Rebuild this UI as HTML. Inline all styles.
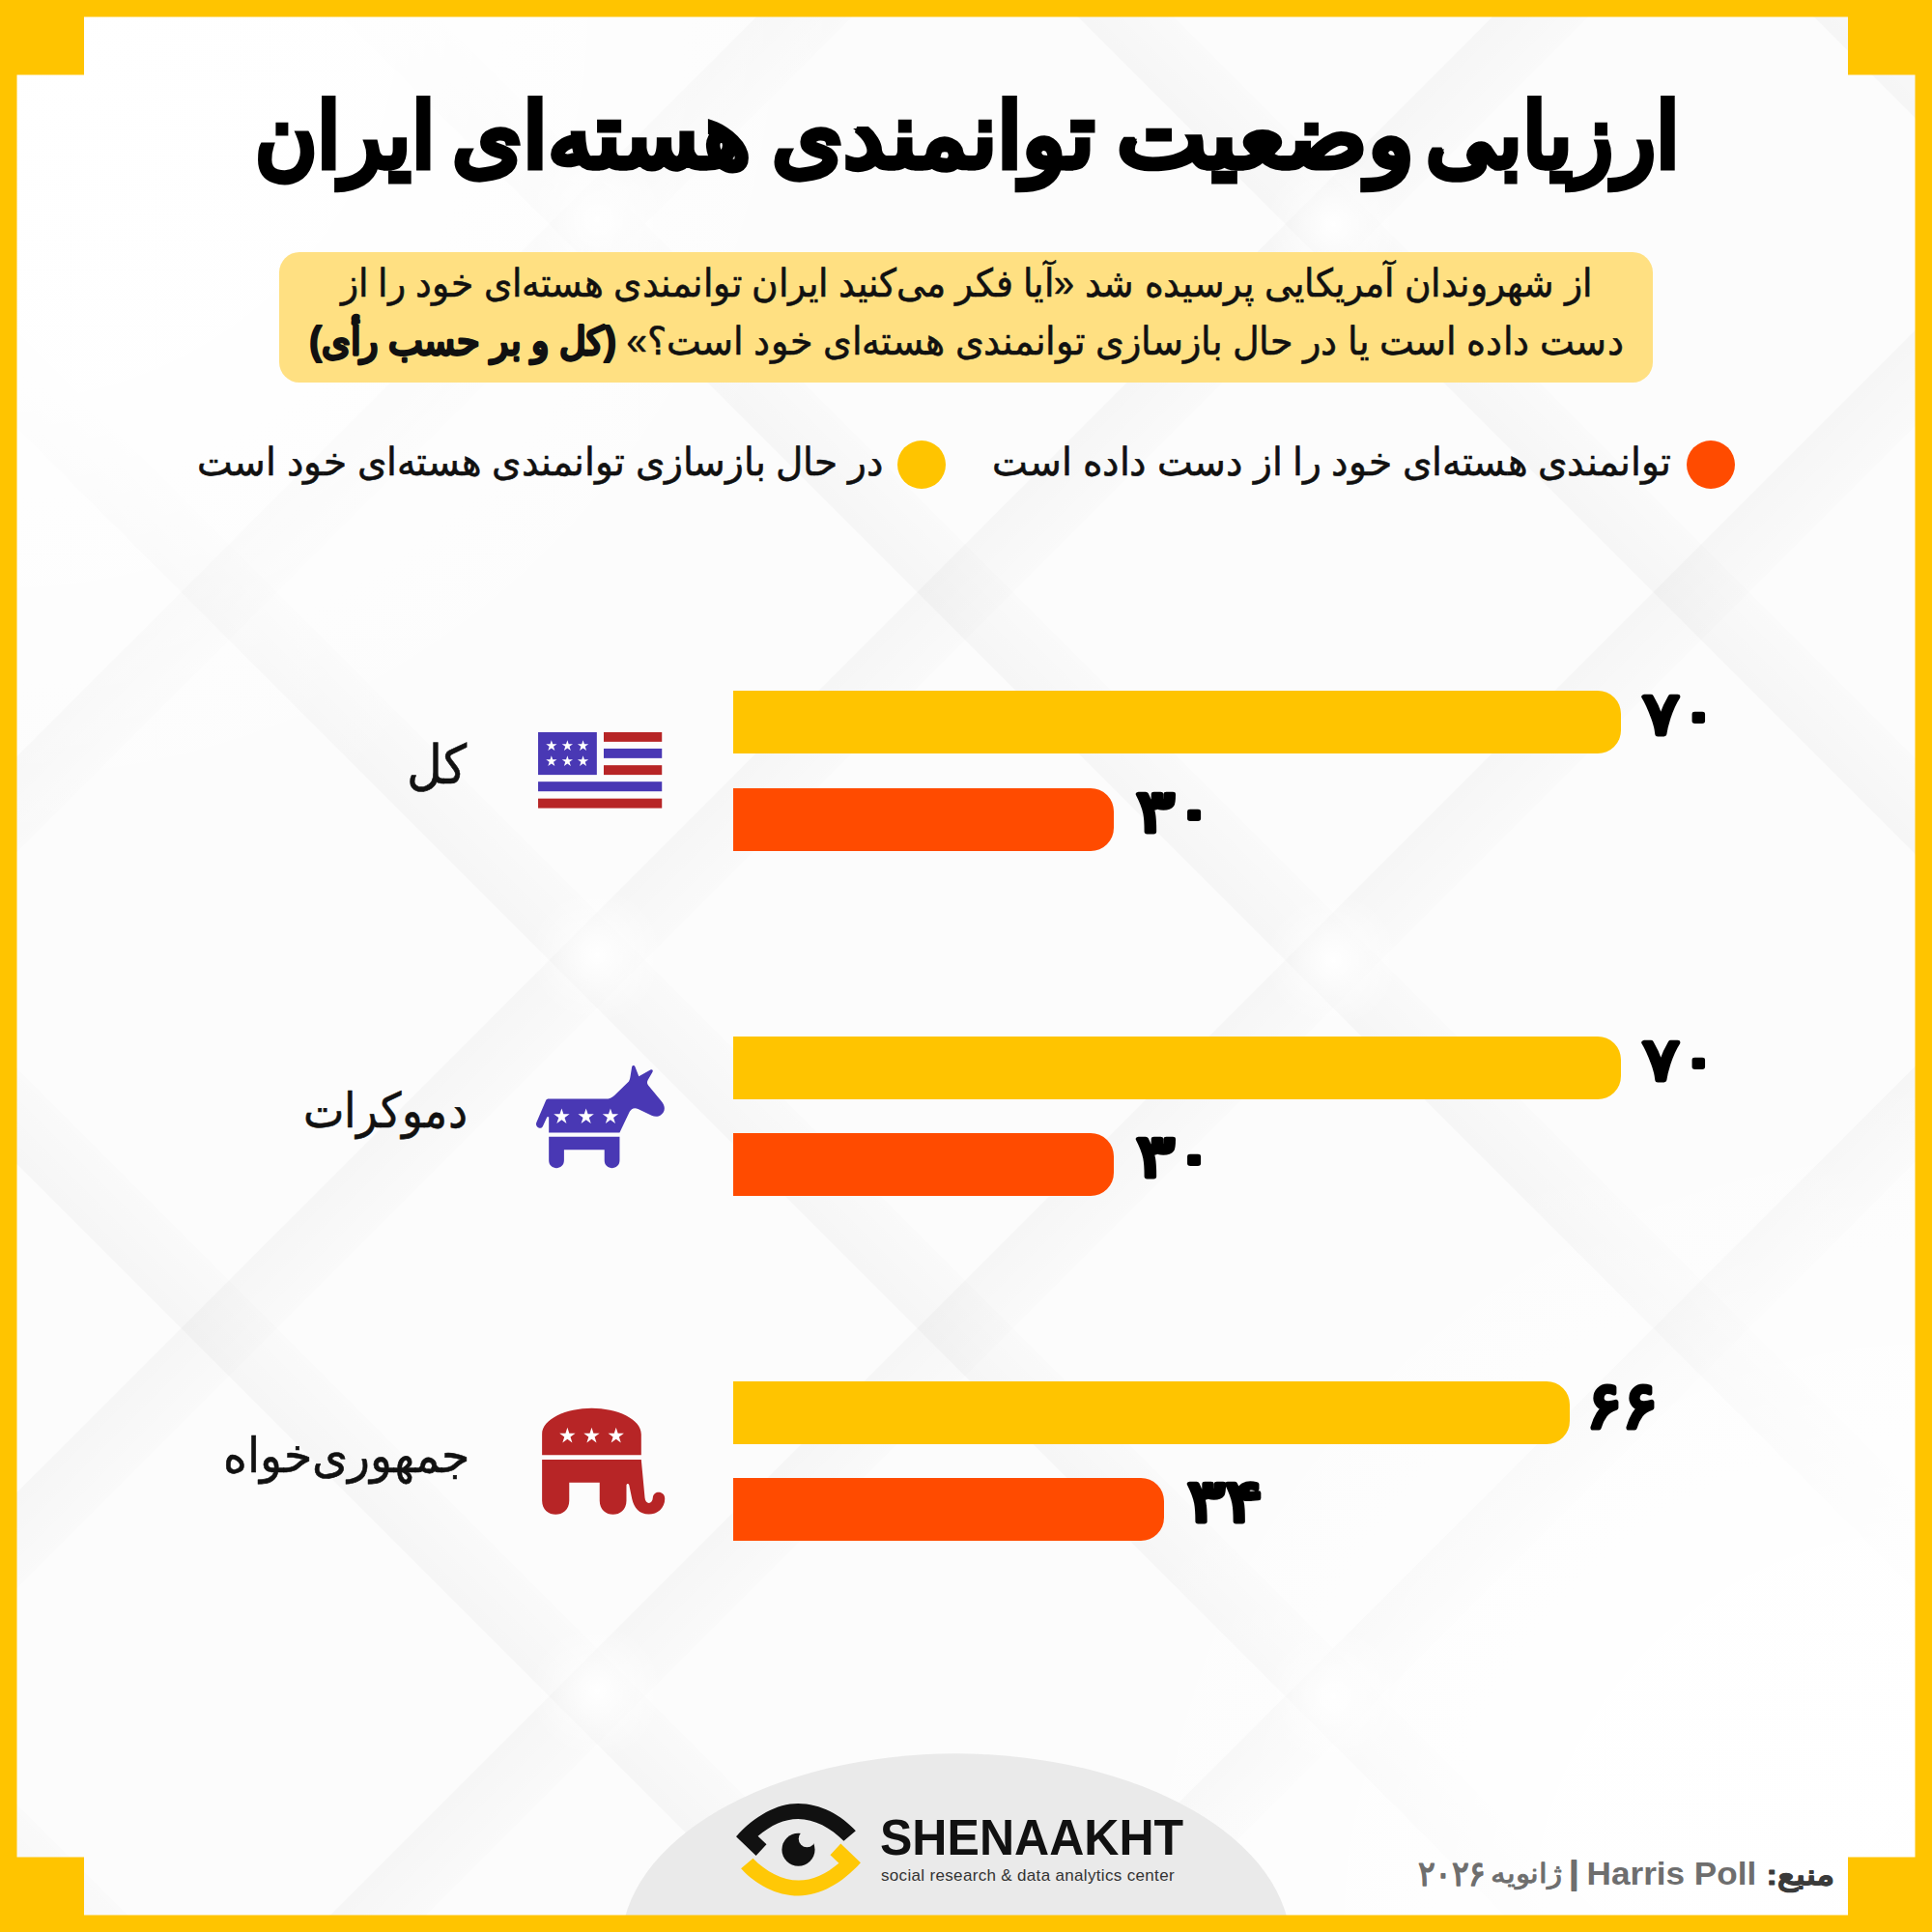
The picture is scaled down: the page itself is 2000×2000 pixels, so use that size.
<!DOCTYPE html><html lang="fa"><head><meta charset="utf-8"><title>ارزیابی وضعیت توانمندی هسته‌ای ایران</title><style>
html,body{margin:0;padding:0}
body{width:2000px;height:2000px;position:relative;overflow:hidden;background:#FCFCFC;font-family:"Liberation Sans",sans-serif}
.abs{position:absolute}
.frame{left:0;top:0;width:1965px;height:1965px;border:17.5px solid #FFC400}
.corner{width:87px;height:77.5px;background:#FFC400}
.subbox{left:289px;top:260.8px;width:1422px;height:134.8px;border-radius:21px;background:#FFE082}
.bar{left:759px;height:65px;border-radius:0 24px 24px 0}
.by{background:#FFC400}.bo{background:#FF4B00}
.dot{width:50px;height:50px;border-radius:50%}
</style></head><body>
<svg class="abs" style="left:0;top:0" width="2000" height="2000" viewBox="0 0 2000 2000"><defs><linearGradient id="g1" x1="0" x2="1" y1="0" y2="0"><stop offset="0" stop-color="#000" stop-opacity=".025"/><stop offset="1" stop-color="#000" stop-opacity=".009"/></linearGradient><radialGradient id="g3"><stop offset="0" stop-color="#fff" stop-opacity="1"/><stop offset="1" stop-color="#fff" stop-opacity="0"/></radialGradient><radialGradient id="g4" gradientUnits="userSpaceOnUse" cx="0" cy="0" r="900"><stop offset="0" stop-color="#fff" stop-opacity="1"/><stop offset=".45" stop-color="#fff" stop-opacity=".85"/><stop offset="1" stop-color="#fff" stop-opacity="0"/></radialGradient><radialGradient id="g5" gradientUnits="userSpaceOnUse" cx="2000" cy="2000" r="900"><stop offset="0" stop-color="#fff" stop-opacity="1"/><stop offset=".45" stop-color="#fff" stop-opacity=".85"/><stop offset="1" stop-color="#fff" stop-opacity="0"/></radialGradient></defs><g transform="rotate(-45 1380 994)"><rect x="-810.3" y="-2500" width="70" height="7000" fill="url(#g1)"/><rect x="-271.4" y="-2500" width="70" height="7000" fill="url(#g1)"/><rect x="267.4" y="-2500" width="70" height="7000" fill="url(#g1)"/><rect x="806.2" y="-2500" width="70" height="7000" fill="url(#g1)"/><rect x="1345.0" y="-2500" width="70" height="7000" fill="url(#g1)"/><rect x="1883.8" y="-2500" width="70" height="7000" fill="url(#g1)"/><rect x="2422.6" y="-2500" width="70" height="7000" fill="url(#g1)"/><rect x="2961.4" y="-2500" width="70" height="7000" fill="url(#g1)"/><rect x="3500.3" y="-2500" width="70" height="7000" fill="url(#g1)"/></g><g transform="rotate(45 1380 994)"><rect x="-810.3" y="-2500" width="70" height="7000" fill="url(#g1)"/><rect x="-271.4" y="-2500" width="70" height="7000" fill="url(#g1)"/><rect x="267.4" y="-2500" width="70" height="7000" fill="url(#g1)"/><rect x="806.2" y="-2500" width="70" height="7000" fill="url(#g1)"/><rect x="1345.0" y="-2500" width="70" height="7000" fill="url(#g1)"/><rect x="1883.8" y="-2500" width="70" height="7000" fill="url(#g1)"/><rect x="2422.6" y="-2500" width="70" height="7000" fill="url(#g1)"/><rect x="2961.4" y="-2500" width="70" height="7000" fill="url(#g1)"/><rect x="3500.3" y="-2500" width="70" height="7000" fill="url(#g1)"/></g><circle cx="1380" cy="994" r="70" fill="url(#g3)"/><circle cx="618" cy="989" r="70" fill="url(#g3)"/><circle cx="1380" cy="232" r="70" fill="url(#g3)"/><circle cx="618" cy="227" r="70" fill="url(#g3)"/><circle cx="1380" cy="1756" r="70" fill="url(#g3)"/><circle cx="618" cy="1751" r="70" fill="url(#g3)"/><rect width="2000" height="2000" fill="url(#g4)"/><rect width="2000" height="2000" fill="url(#g5)"/></svg>
<svg class="abs" style="left:0;top:0" width="2000" height="2000" viewBox="0 0 2000 2000"><ellipse cx="989.6" cy="2015" rx="346.6" ry="199.7" fill="#EAEAEA"/><path fill="#FFC400" fill-rule="evenodd" d="M0,0H2000V2000H0Z M17.5,17.5V1982.5H1982.5V17.5Z"/><path fill="#FFC400" d="M0,0h87v77.6h-87z M1913,0h87v77.6h-87z M0,1922.4h87v77.6h-87z M1913,1922.4h87v77.6h-87z"/></svg>
<div class="abs subbox"></div>
<div class="abs dot" style="left:928.5px;top:455.7px;background:#FFC400"></div>
<div class="abs dot" style="left:1746px;top:455.7px;background:#FF4B00"></div>
<div class="abs bar by" style="top:715px;width:918.8px"></div>
<div class="abs bar bo" style="top:816px;width:393.8px"></div>
<div class="abs bar by" style="top:1073px;width:918.8px"></div>
<div class="abs bar bo" style="top:1173px;width:393.8px"></div>
<div class="abs bar by" style="top:1430px;width:866.2px"></div>
<div class="abs bar bo" style="top:1530px;width:446.2px"></div>
<svg class="abs" style="left:545px;top:745px" width="155" height="105" viewBox="0 0 1932 1309"><rect x="150" y="162" width="758" height="550" fill="#4938B4"/><rect x="997" y="162" width="751" height="123" fill="#B72526"/><rect x="997" y="373" width="751" height="124" fill="#4938B4"/><rect x="997" y="588" width="751" height="124" fill="#B72526"/><rect x="150" y="800" width="1598" height="125" fill="#4938B4"/><rect x="150" y="1018" width="1598" height="124" fill="#B72526"/><polygon points="322.0,264.0 338.6,315.1 392.4,315.1 348.9,346.7 365.5,397.9 322.0,366.3 278.5,397.9 295.1,346.7 251.6,315.1 305.4,315.1" fill="#fff"/><polygon points="528.0,264.0 544.6,315.1 598.4,315.1 554.9,346.7 571.5,397.9 528.0,366.3 484.5,397.9 501.1,346.7 457.6,315.1 511.4,315.1" fill="#fff"/><polygon points="730.0,264.0 746.6,315.1 800.4,315.1 756.9,346.7 773.5,397.9 730.0,366.3 686.5,397.9 703.1,346.7 659.6,315.1 713.4,315.1" fill="#fff"/><polygon points="322.0,464.0 338.6,515.1 392.4,515.1 348.9,546.7 365.5,597.9 322.0,566.3 278.5,597.9 295.1,546.7 251.6,515.1 305.4,515.1" fill="#fff"/><polygon points="528.0,464.0 544.6,515.1 598.4,515.1 554.9,546.7 571.5,597.9 528.0,566.3 484.5,597.9 501.1,546.7 457.6,515.1 511.4,515.1" fill="#fff"/><polygon points="730.0,464.0 746.6,515.1 800.4,515.1 756.9,546.7 773.5,597.9 730.0,566.3 686.5,597.9 703.1,546.7 659.6,515.1 713.4,515.1" fill="#fff"/></svg>
<svg class="abs" style="left:540px;top:1090px" width="160" height="130" viewBox="0 0 1932 1570"><path fill="#4938B4" d="M230,940 C200,940 170,905 185,870 L300,600 C308,582 322,575 340,575 L1050,575 C1095,575 1130,558 1160,530 L1340,355 C1350,340 1355,320 1358,300 L1378,175 C1382,152 1410,150 1418,172 L1465,292 L1610,212 C1632,200 1648,218 1636,238 L1580,335 C1565,362 1566,385 1585,407 L1745,600 C1800,665 1800,730 1740,775 C1705,802 1665,800 1625,782 L1455,700 C1410,678 1370,695 1350,735 L1225,995 L340,995 L340,800 L318,800 L270,905 C262,925 250,940 230,940 Z M340,1048 L1225,1048 L1225,1345 C1225,1470 1035,1470 1035,1345 L1035,1210 L530,1210 L530,1345 C530,1470 340,1470 340,1345 Z"/><polygon points="500.0,693.0 523.4,764.9 598.9,764.9 537.8,809.3 561.1,881.1 500.0,836.7 438.9,881.1 462.2,809.3 401.1,764.9 476.6,764.9" fill="#fff"/><polygon points="805.0,693.0 828.4,764.9 903.9,764.9 842.8,809.3 866.1,881.1 805.0,836.7 743.9,881.1 767.2,809.3 706.1,764.9 781.6,764.9" fill="#fff"/><polygon points="1110.0,693.0 1133.4,764.9 1208.9,764.9 1147.8,809.3 1171.1,881.1 1110.0,836.7 1048.9,881.1 1072.2,809.3 1011.1,764.9 1086.6,764.9" fill="#fff"/></svg>
<svg class="abs" style="left:540px;top:1450px" width="160" height="130" viewBox="0 0 1932 1570"><path fill="#B72526" d="M255,680 L255,420 C255,230 560,95 875,95 C1190,95 1495,230 1495,420 L1495,680 Z M255,737 L1495,737 L1540,1215 C1546,1300 1636,1300 1640,1215 C1644,1120 1790,1120 1790,1225 C1790,1340 1700,1420 1590,1420 C1470,1420 1405,1340 1380,1230 L1345,1060 C1340,1030 1310,1030 1310,1060 L1310,1250 C1310,1480 975,1480 975,1250 L975,1025 L595,1025 L595,1250 C595,1480 255,1480 255,1250 Z"/><polygon points="572.0,336.0 595.4,407.9 670.9,407.9 609.8,452.3 633.1,524.1 572.0,479.7 510.9,524.1 534.2,452.3 473.1,407.9 548.6,407.9" fill="#fff"/><polygon points="875.0,336.0 898.4,407.9 973.9,407.9 912.8,452.3 936.1,524.1 875.0,479.7 813.9,524.1 837.2,452.3 776.1,407.9 851.6,407.9" fill="#fff"/><polygon points="1180.0,336.0 1203.4,407.9 1278.9,407.9 1217.8,452.3 1241.1,524.1 1180.0,479.7 1118.9,524.1 1142.2,452.3 1081.1,407.9 1156.6,407.9" fill="#fff"/></svg>
<svg class="abs" style="left:750px;top:1855px" width="150" height="120" viewBox="0 0 1932 1546"><path fill="#111" d="M155,595 C400,320 700,155 980,155 C1280,155 1560,310 1750,520 L1590,655 C1420,480 1200,360 980,360 C800,360 620,440 445,590 L560,700 L420,850 Z"/><path fill="#FFC806" transform="rotate(180 985 770)" d="M155,595 C400,320 700,155 980,155 C1280,155 1560,310 1750,520 L1590,655 C1420,480 1200,360 980,360 C800,360 620,440 445,590 L560,700 L420,850 Z"/><mask id="pm"><rect width="1932" height="1546" fill="#fff"/><circle cx="1100" cy="625" r="112" fill="#000"/></mask><circle cx="985" cy="770" r="220" fill="#111" mask="url(#pm)"/></svg>
<svg class="abs" style="left:0;top:0" width="2000" height="2000" viewBox="0 0 2000 2000" font-family="'Liberation Sans', sans-serif"><g role="heading" aria-label="ارزیابی وضعیت توانمندی هسته‌ای ایران"><text x="1607.3" y="173.0" text-anchor="middle" direction="rtl" font-size="93" font-weight="700" fill="#000" stroke="#000" stroke-width="4" stroke-linejoin="miter" stroke-miterlimit="2" textLength="262.5" lengthAdjust="spacingAndGlyphs">ارزیابی</text><text x="1310.0" y="173.0" text-anchor="middle" direction="rtl" font-size="93" font-weight="700" fill="#000" stroke="#000" stroke-width="4" stroke-linejoin="miter" stroke-miterlimit="2" textLength="307.4" lengthAdjust="spacingAndGlyphs">وضعیت</text><text x="966.2" y="173.0" text-anchor="middle" direction="rtl" font-size="93" font-weight="700" fill="#000" stroke="#000" stroke-width="4" stroke-linejoin="miter" stroke-miterlimit="2" textLength="334.4" lengthAdjust="spacingAndGlyphs">توانمندی</text><text x="622.0" y="173.0" text-anchor="middle" direction="rtl" font-size="93" font-weight="700" fill="#000" stroke="#000" stroke-width="4" stroke-linejoin="miter" stroke-miterlimit="2" textLength="309.0" lengthAdjust="spacingAndGlyphs">هسته‌ای</text><text x="357.1" y="173.0" text-anchor="middle" direction="rtl" font-size="93" font-weight="700" fill="#000" stroke="#000" stroke-width="4" stroke-linejoin="miter" stroke-miterlimit="2" textLength="186.2" lengthAdjust="spacingAndGlyphs">ایران</text></g><text x="1000.3" y="307.3" text-anchor="middle" direction="rtl" font-size="40" font-weight="400" fill="#111" stroke="#111" stroke-width="0.6" stroke-linejoin="round" textLength="1295.2" lengthAdjust="spacingAndGlyphs">از شهروندان آمریکایی پرسیده شد «آیا فکر می‌کنید ایران توانمندی هسته‌ای خود را از</text><text x="1000.5" y="366.7" text-anchor="middle" direction="rtl" font-size="40" font-weight="400" fill="#111" stroke="#111" stroke-width="0.6" stroke-linejoin="round" textLength="1360.4" lengthAdjust="spacingAndGlyphs">دست داده است یا در حال بازسازی توانمندی هسته‌ای خود است؟» <tspan font-weight="700" stroke-width="2">(کل و بر حسب رأی)</tspan></text><text x="1378.8" y="492.0" text-anchor="middle" direction="rtl" font-size="40" font-weight="400" fill="#111" stroke="#111" stroke-width="0.6" stroke-linejoin="round" textLength="702.7" lengthAdjust="spacingAndGlyphs">توانمندی هسته‌ای خود را از دست داده است</text><text x="559.2" y="492.0" text-anchor="middle" direction="rtl" font-size="40" font-weight="400" fill="#111" stroke="#111" stroke-width="0.6" stroke-linejoin="round" textLength="710.6" lengthAdjust="spacingAndGlyphs">در حال بازسازی توانمندی هسته‌ای خود است</text><text x="452.5" y="811.0" text-anchor="middle" direction="rtl" font-size="56" font-weight="400" fill="#111" stroke="#111" stroke-width="0.6" stroke-linejoin="round" textLength="62.4" lengthAdjust="spacingAndGlyphs">کل</text><text x="1739.3" y="760.0" text-anchor="middle" direction="rtl" font-size="61" font-weight="700" fill="#000" stroke="#000" stroke-width="3" stroke-linejoin="round" textLength="77.8" lengthAdjust="spacingAndGlyphs">۷۰</text><text x="1216.5" y="860.5" text-anchor="middle" direction="rtl" font-size="61" font-weight="700" fill="#000" stroke="#000" stroke-width="3" stroke-linejoin="round" textLength="80.9" lengthAdjust="spacingAndGlyphs">۳۰</text><text x="398.8" y="1167.0" text-anchor="middle" direction="rtl" font-size="50" font-weight="400" fill="#111" stroke="#111" stroke-width="0.6" stroke-linejoin="round" textLength="169.5" lengthAdjust="spacingAndGlyphs">دموکرات</text><text x="1739.3" y="1118.0" text-anchor="middle" direction="rtl" font-size="61" font-weight="700" fill="#000" stroke="#000" stroke-width="3" stroke-linejoin="round" textLength="77.8" lengthAdjust="spacingAndGlyphs">۷۰</text><text x="1216.5" y="1218.0" text-anchor="middle" direction="rtl" font-size="61" font-weight="700" fill="#000" stroke="#000" stroke-width="3" stroke-linejoin="round" textLength="80.9" lengthAdjust="spacingAndGlyphs">۳۰</text><text x="358.9" y="1524.0" text-anchor="middle" direction="rtl" font-size="50" font-weight="400" fill="#111" stroke="#111" stroke-width="0.6" stroke-linejoin="round" textLength="255.5" lengthAdjust="spacingAndGlyphs">جمهوری‌خواه</text><text x="1679.5" y="1477.7" text-anchor="middle" direction="rtl" font-size="67" font-weight="700" fill="#000" stroke="#000" stroke-width="3" stroke-linejoin="round" textLength="74.3" lengthAdjust="spacingAndGlyphs">۶۶</text><text x="1268.3" y="1575.0" text-anchor="middle" direction="rtl" font-size="61" font-weight="700" fill="#000" stroke="#000" stroke-width="3" stroke-linejoin="round" textLength="79.0" lengthAdjust="spacingAndGlyphs">۳۴</text></svg>
<div class="abs" id="brand" style="left:911.2px;top:1870px;font-size:52.4px;line-height:64px;font-weight:700;color:#111;white-space:nowrap;transform-origin:0 0;transform:scaleX(0.955)">SHENAAKHT</div>
<div class="abs" id="tag" style="left:912px;top:1928.5px;font-size:17px;line-height:26px;color:#333;white-space:nowrap;letter-spacing:0.33px">social research &amp; data analytics center</div>
<svg class="abs" style="left:0;top:0" width="2000" height="2000" viewBox="0 0 2000 2000" font-family="'Liberation Sans', sans-serif"><text x="1863.8" y="1951.0" text-anchor="middle" direction="rtl" font-size="30" font-weight="700" fill="#3a3a3a" stroke="#3a3a3a" stroke-width="0.8" stroke-linejoin="round" textLength="71.2" lengthAdjust="spacingAndGlyphs">منبع:</text><text x="1730.4" y="1951.0" text-anchor="middle" font-size="34" font-weight="700" fill="#6e6e6e"  textLength="175.6" lengthAdjust="spacingAndGlyphs">Harris Poll</text><text x="1629.3" y="1950.0" text-anchor="middle" font-size="34" font-weight="700" fill="#6e6e6e" stroke="#6e6e6e" stroke-width="2" stroke-linejoin="round" textLength="8.7" lengthAdjust="spacingAndGlyphs">|</text><text x="1580.3" y="1949.0" text-anchor="middle" direction="rtl" font-size="27.5" font-weight="400" fill="#6e6e6e" stroke="#6e6e6e" stroke-width="0.9" stroke-linejoin="round" textLength="74.9" lengthAdjust="spacingAndGlyphs">ژانویه</text><text x="1502.8" y="1952.0" text-anchor="middle" direction="rtl" font-size="36" font-weight="400" fill="#6e6e6e" stroke="#6e6e6e" stroke-width="1.5" stroke-linejoin="round" textLength="70.0" lengthAdjust="spacingAndGlyphs">۲۰۲۶</text></svg>

</body></html>
